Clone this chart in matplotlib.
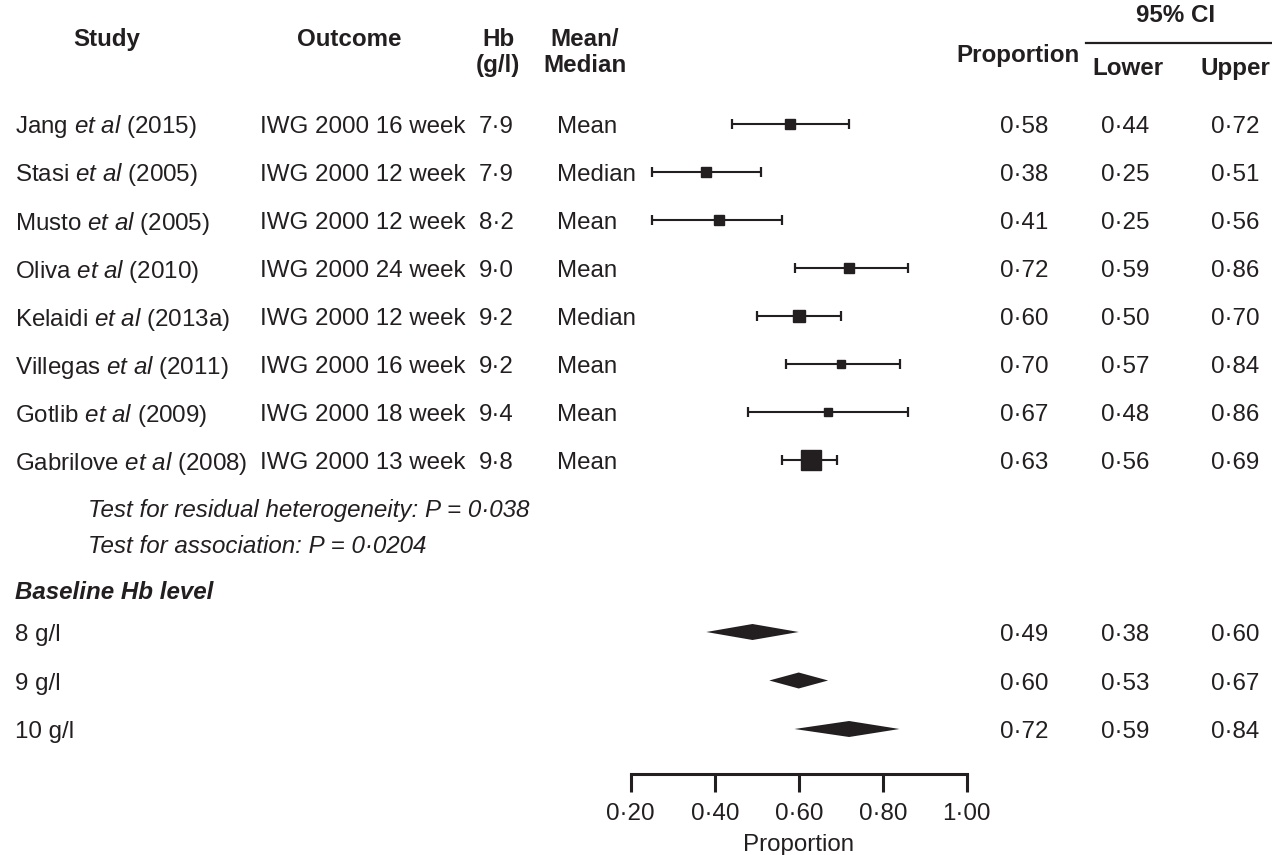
import matplotlib.pyplot as plt
import numpy as np
from matplotlib.ticker import FuncFormatter

plt.rcParams['font.family'] = ['Liberation Sans', 'DejaVu Sans']
plt.rcParams['mathtext.fontset'] = 'custom'
plt.rcParams['mathtext.rm'] = 'Liberation Sans'
plt.rcParams['mathtext.it'] = 'Liberation Sans:italic'
plt.rcParams['mathtext.bf'] = 'Liberation Sans:bold'

# study data
authors = ['Jang', 'Stasi', 'Musto', 'Oliva', 'Kelaidi', 'Villegas', 'Gotlib', 'Gabrilove']
years = ['2015', '2005', '2005', '2010', '2013a', '2011', '2009', '2008']
outcomes = ['IWG 2000 16 week', 'IWG 2000 12 week', 'IWG 2000 12 week', 'IWG 2000 24 week',
            'IWG 2000 12 week', 'IWG 2000 16 week', 'IWG 2000 18 week', 'IWG 2000 13 week']
hb = [7.9, 7.9, 8.2, 9.0, 9.2, 9.2, 9.4, 9.8]
stat = ['Mean', 'Median', 'Mean', 'Mean', 'Median', 'Mean', 'Mean', 'Mean']
prop = [0.58, 0.38, 0.41, 0.72, 0.60, 0.70, 0.67, 0.63]
lower = [0.44, 0.25, 0.25, 0.59, 0.50, 0.57, 0.48, 0.56]
upper = [0.72, 0.51, 0.56, 0.86, 0.70, 0.84, 0.86, 0.69]
weight = [1.0, 1.0, 1.0, 1.0, 1.45, 0.65, 0.65, 4.2]  # relative study weight (box area)

# pooled estimates by baseline Hb
levels = ['8 g/l', '9 g/l', '10 g/l']
pool_prop = [0.49, 0.60, 0.72]
pool_lower = [0.38, 0.53, 0.59]
pool_upper = [0.60, 0.67, 0.84]
p_het = 0.038
p_assoc = 0.0204

ticks = [0.20, 0.40, 0.60, 0.80, 1.00]


def dot(v, nd=2):
    return f'{v:.{nd}f}'.replace('.', '\u00b7')


ink = '#231f20'
fs = 17.4
W, H = 1272, 855

fig = plt.figure(figsize=(W / 100, H / 100), dpi=100)

# text layer in pixel coordinates
tab = fig.add_axes([0, 0, 1, 1])
tab.set_xlim(0, W)
tab.set_ylim(H, 0)
tab.axis('off')

# forest panel
axis_y = 774
ax = fig.add_axes([630.7 / W, (H - axis_y) / H, 336 / W, axis_y / H])
ax.set_xlim(0.2, 1.0)
ax.set_ylim(axis_y, 0)
ax.patch.set_visible(False)
for s in ['top', 'left', 'right']:
    ax.spines[s].set_visible(False)
ax.spines['bottom'].set_linewidth(2.2)
ax.spines['bottom'].set_color(ink)
ax.set_yticks([])
ax.set_xticks(ticks)
ax.xaxis.set_major_formatter(FuncFormatter(lambda v, _: dot(v)))
ax.tick_params(axis='x', direction='out', length=13, width=2.2, labelsize=fs,
               pad=8, colors=ink)
ax.set_xlabel('Proportion', fontsize=fs, color=ink, labelpad=6)

n = len(authors)
row_y = 124 + 48 * np.arange(n)
pool_y = 632 + 48.5 * np.arange(len(levels))
dy = 3  # text sits slightly below the marks

for i in range(n):
    ax.errorbar(prop[i], row_y[i],
                xerr=[[prop[i] - lower[i]], [upper[i] - prop[i]]],
                fmt='none', ecolor=ink, elinewidth=1.5, capsize=3.6, capthick=1.6,
                clip_on=False)
    ax.plot(prop[i], row_y[i], 's', ms=7.2 * np.sqrt(weight[i]), color=ink,
            mec=ink, clip_on=False, zorder=3)

for j in range(len(levels)):
    ax.fill([pool_lower[j], pool_prop[j], pool_upper[j], pool_prop[j]],
            [pool_y[j], pool_y[j] - 8, pool_y[j], pool_y[j] + 8],
            color=ink, lw=0, clip_on=False)

# header (baseline aligned)
hdr = dict(fontsize=fs, fontweight='bold', color=ink, va='baseline')
tab.text(107, 46, 'Study', ha='center', **hdr)
tab.text(349, 46, 'Outcome', ha='center', **hdr)
tab.text(498, 46, 'Hb', ha='center', **hdr)
tab.text(498, 72, '(g/l)', ha='center', **hdr)
tab.text(585, 46, 'Mean/', ha='center', **hdr)
tab.text(585, 72, 'Median', ha='center', **hdr)
tab.text(1018, 62, 'Proportion', ha='center', **hdr)
tab.text(1176, 22, '95% CI', ha='center', **hdr)
tab.plot([1086, 1272], [43, 43], color=ink, lw=1.6)
tab.text(1128, 75, 'Lower', ha='center', **hdr)
tab.text(1235, 75, 'Upper', ha='center', **hdr)

body = dict(fontsize=fs, color=ink, va='center')
for i in range(n):
    y = row_y[i] + dy
    tab.text(15, y, f'{authors[i]} $\\mathit{{et\\ al}}$ ({years[i]})', ha='left', **body)
    tab.text(260, y, outcomes[i], ha='left', **body)
    tab.text(496, y, dot(hb[i], 1), ha='center', **body)
    tab.text(557, y, stat[i], ha='left', **body)
    tab.text(1024, y, dot(prop[i]), ha='center', **body)
    tab.text(1125, y, dot(lower[i]), ha='center', **body)
    tab.text(1235, y, dot(upper[i]), ha='center', **body)

tab.text(88, 510, f'Test for residual heterogeneity: P = {dot(p_het, 3)}',
         ha='left', style='italic', **body)
tab.text(88, 546, f'Test for association: P = {dot(p_assoc, 4)}',
         ha='left', style='italic', **body)
tab.text(15, 592, 'Baseline Hb level', ha='left', style='italic', fontweight='bold', **body)

for j in range(len(levels)):
    y = pool_y[j] + dy
    tab.text(15, y, levels[j], ha='left', **body)
    tab.text(1024, y, dot(pool_prop[j]), ha='center', **body)
    tab.text(1125, y, dot(pool_lower[j]), ha='center', **body)
    tab.text(1235, y, dot(pool_upper[j]), ha='center', **body)

fig.savefig('out.png', dpi=100)
